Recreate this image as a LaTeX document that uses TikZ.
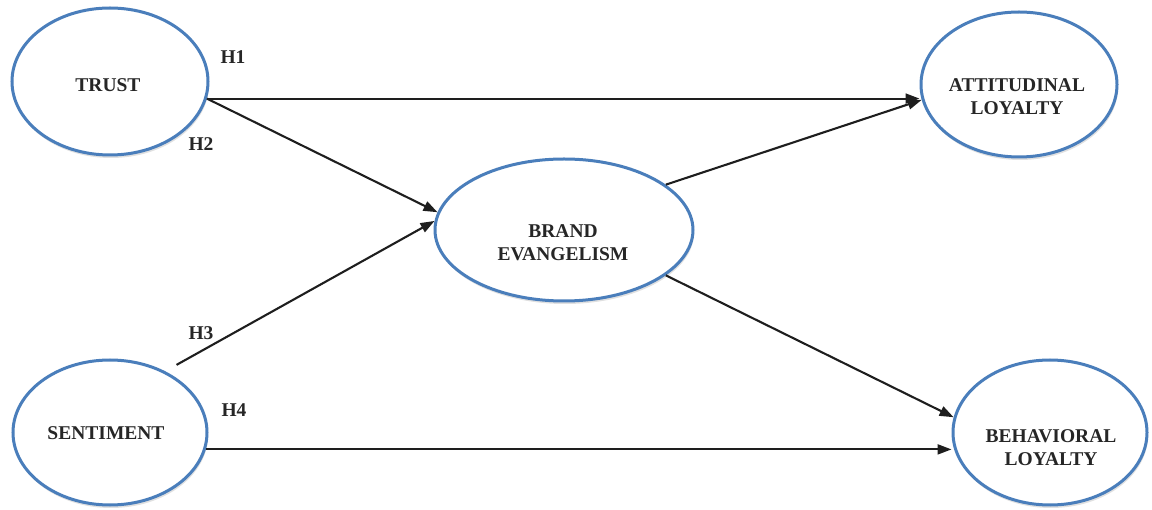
\documentclass[tikz,border=0pt]{standalone}
\usepackage{fontspec}
\setmainfont{Liberation Serif}
\usetikzlibrary{shapes.geometric,arrows.meta}
\definecolor{ellblue}{HTML}{4A7EBB}
\definecolor{arrgray}{HTML}{1E1E1E}
\tikzset{
  construct/.style={ellipse, draw=ellblue, line width=3pt, fill=white, inner sep=0pt},
  ctext/.style={align=center, inner sep=0pt, text=black!85,
    font=\fontsize{19.5}{23}\selectfont\bfseries},
  shade/.style={ellipse, fill=black, opacity=0.12, inner sep=0pt},
  arr/.style={draw=arrgray, line width=2.1pt, -{Triangle[length=14pt,width=10pt]}},
  hlabel/.style={font=\fontsize{19.5}{23}\selectfont\bfseries, text=black!85}
}
\begin{document}
\begin{tikzpicture}[x=1pt,y=-1pt]
\useasboundingbox (0,0) rectangle (1152,510);
% shadows
\node[shade, minimum width=196pt, minimum height=147pt] at (111,84.5) {};
\node[shade, minimum width=196pt, minimum height=145pt] at (1020,87.5) {};
\node[shade, minimum width=258pt, minimum height=142pt] at (565,233) {};
\node[shade, minimum width=194pt, minimum height=145pt] at (111,435.5) {};
\node[shade, minimum width=194pt, minimum height=145pt] at (1051,435.5) {};
% constructs
\node[construct, minimum width=196pt, minimum height=147pt] (trust) at (110,81.5) {};
\node[construct, minimum width=196pt, minimum height=145pt] (att) at (1019,84.5) {};
\node[construct, minimum width=258pt, minimum height=142pt] (brand) at (564,230) {};
\node[construct, minimum width=194pt, minimum height=145pt] (sent) at (110,432.5) {};
\node[construct, minimum width=194pt, minimum height=145pt] (beh) at (1050,432.5) {};
% construct texts
\node[ctext] (trustt) at (108,85) {TRUST};
\node[ctext] (attt) at (1017,97) {ATTITUDINAL\\LOYALTY};
\node[ctext] (brandt) at (563,243) {BRAND\\EVANGELISM};
\node[ctext] (sentt) at (106,433) {SENTIMENT};
\node[ctext] (beht) at (1051,448) {BEHAVIORAL\\LOYALTY};
% paths
\draw[arr] (trust.-10) -- (trust.-10 -| att.west);
\draw[arr] (trust.-10) -- (brand.172);
\draw[arr, shorten <=13pt] (sent.48) -- (brand.176);
\draw[arr] (sent.-10) -- (sent.-10 -| beh.west);
\draw[arr] (brand.24) -- (att.189);
\draw[arr] (brand.-24) -- (beh.171);
% labels
\node[hlabel] (h1) at (233,57) {H1};
\node[hlabel] (h2) at (201,144) {H2};
\node[hlabel] (h3) at (201,333) {H3};
\node[hlabel] (h4) at (234,410) {H4};
\end{tikzpicture}
\end{document}
